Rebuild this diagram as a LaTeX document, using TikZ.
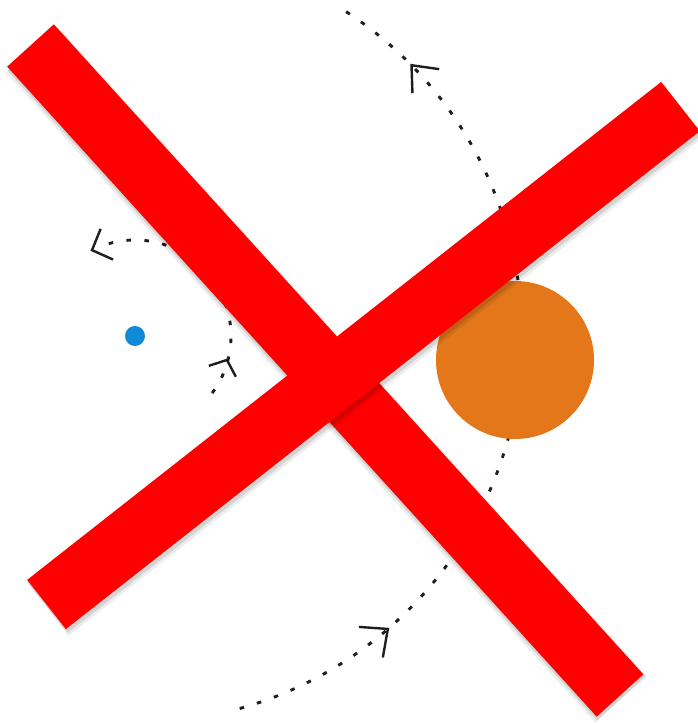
\documentclass[tikz,border=0pt]{standalone}
\usetikzlibrary{calc}
\definecolor{barred}{RGB}{255,0,0}
\definecolor{planetorange}{RGB}{227,119,26}
\definecolor{starblue}{RGB}{16,138,214}
\definecolor{inkgray}{RGB}{30,30,30}
\tikzset{
  orbitline/.style={inkgray, line width=2.9pt, dash pattern=on 4.5pt off 13.5pt},
  chev/.style={inkgray, line width=2.4pt, line join=miter},
  redbar/.style={barred, line width=63pt, line cap=butt},
  barshadow/.style={black, opacity=0.07, line width=69pt, line cap=butt},
  barshadowin/.style={black, opacity=0.10, line width=65pt, line cap=butt},
}
\begin{document}
\begin{tikzpicture}[x=1pt,y=1pt]
\useasboundingbox (0,-723) rectangle (698,0);
\clip (0,-723) rectangle (698,0);
\fill[white] (0,-723) rectangle (698,0);
% star (blue dot) at orbit centre
\coordinate (O) at (135,-336);
% big orbit
\draw[orbitline] ($(O)+(-74.3:387)$) arc[start angle=-74.3, end angle=58.5, radius=387];
% small orbit
\draw[orbitline] ($(O)+(-36.5:96)$) arc[start angle=-36.5, end angle=113, radius=96];
% chevrons on big orbit
\coordinate (c1) at ($(O)+(44.4:387)$);
\draw[chev] ($(c1)+(132+180+40:28)$) -- (c1) -- ($(c1)+(132+180-40:28)$);
\coordinate (c2) at ($(O)+(-49.2:387)$);
\draw[chev] ($(c2)+(38+180+42:29)$) -- (c2) -- ($(c2)+(38+180-42:29)$);
% chevrons on small orbit
\coordinate (c3) at ($(O)+(-14.6:95)$);
\draw[chev] ($(c3)+(68+180+50:19)$) -- (c3) -- ($(c3)+(68+180-50:19)$);
\coordinate (c4) at ($(O)+(116.6:96)$);
\draw[chev] ($(c4)+(202+180+46:23)$) -- (c4) -- ($(c4)+(202+180-46:23)$);
% star and planet
\node[circle, fill=starblue, inner sep=0pt, minimum size=20pt] (star) at (O) {};
\node[circle, fill=planetorange, inner sep=0pt, minimum size=158pt] (planet) at (515,-360) {};
% red cross
\coordinate (b1s) at (30.5,-45.5);
\coordinate (b1e) at (620,-695.5);
\coordinate (b2s) at (46.5,-604.5);
\coordinate (b2e) at (680.5,-106.5);
\draw[barshadow] ($(b1s)+(1,-4)$) -- ($(b1e)+(1,-4)$);
\draw[barshadowin] ($(b1s)+(1,-3)$) -- ($(b1e)+(1,-3)$);
\draw[redbar] (b1s) -- (b1e);
\draw[barshadow] ($(b2s)+(1,-4)$) -- ($(b2e)+(1,-4)$);
\draw[barshadowin] ($(b2s)+(1,-3)$) -- ($(b2e)+(1,-3)$);
\draw[redbar, line width=62.6pt] (b2s) -- (b2e);
\end{tikzpicture}
\end{document}
